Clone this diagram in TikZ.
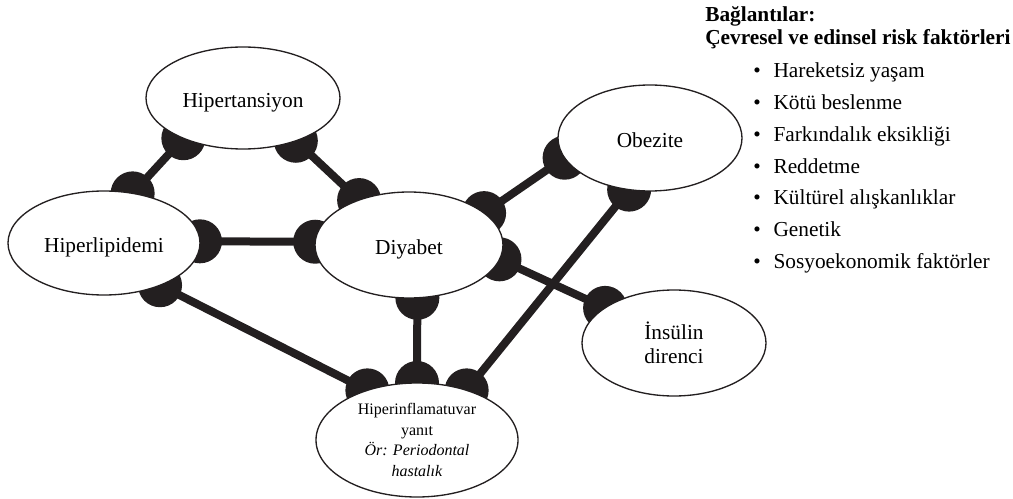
\documentclass[tikz,border=0pt]{standalone}
\usepackage{fontspec}
\setmainfont{Liberation Serif}
\usetikzlibrary{shapes.geometric,backgrounds}
\definecolor{ink}{RGB}{35,31,32}

\begin{document}
\begin{tikzpicture}[x=0.75pt, y=-0.75pt,
  bubble/.style={ellipse, draw=ink, line width=1pt, fill=white, inner sep=0pt, outer sep=0pt, align=center, font=\fontsize{16}{18}\selectfont},
  lower/.style={text height=14pt, text depth=0pt},
  small/.style={bubble, font=\fontsize{12}{15.5}\selectfont},
  link/.style={draw=ink, line width=6pt}, blob/.style={fill=ink},
  hdr/.style={anchor=base west, inner sep=0pt, font=\bfseries\fontsize{16}{18}\selectfont},
  item/.style={anchor=base west, inner sep=0pt, font=\fontsize{16}{18}\selectfont}]
\useasboundingbox (0,0) rectangle (1013,499);
% risk factors as ellipses
\node[bubble, lower, minimum width=145.5pt, minimum height=76.5pt] (hyp) at (243,98) {Hipertansiyon};
\node[bubble, lower, minimum width=144pt, minimum height=78pt] (lip) at (104,243) {Hiperlipidemi};
\node[bubble, lower, minimum width=141pt, minimum height=79.5pt] (dia) at (409,245) {Diyabet};
\node[bubble, lower, minimum width=138pt, minimum height=79.5pt] (obe) at (650,138) {Obezite};
\node[bubble, minimum width=138pt, minimum height=79.5pt] (ins) at (674,343) {İnsülin\\direnci};
\node[small, minimum width=151.5pt, minimum height=85.5pt] (inf) at (417,440) {Hiperinflamatuvar\\yanıt\\\textit{Ör: Periodontal}\\\textit{hastalık}};
% connectors with round joints
\begin{scope}[on background layer]
\foreach \a/\p/\b/\q in {hyp/214/lip/60, hyp/321/dia/138, lip/1/dia/178, lip/323/inf/135,
    dia/279/inf/90, dia/23/obe/193, dia/351/ins/153, obe/248/inf/45}{
  \draw[link] (\a.\p) -- (\b.\q);
  \fill[blob] (\a.\p) circle[radius=16.5pt] (\b.\q) circle[radius=16.5pt];
}
\end{scope}
% legend
\node[hdr] (hdr1) at (705,22) {Bağlantılar:};
\node[hdr] (hdr2) at (705,45) {Çevresel ve edinsel risk faktörleri};
\foreach \t [count=\i] in {Hareketsiz yaşam, Kötü beslenme, Farkındalık eksikliği, Reddetme,
    Kültürel alışkanlıklar, Genetik, Sosyoekonomik faktörler}
  \node[item] (it\i) at (753,46.3+31.7*\i) {\textbullet\hspace{0.6em}\t};
\end{tikzpicture}
\end{document}
